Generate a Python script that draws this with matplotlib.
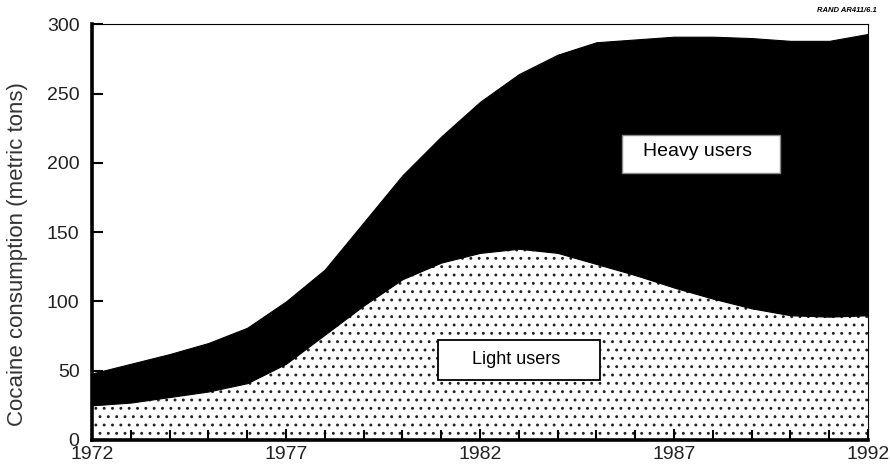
"""
Cocaine consumption by light and heavy users, 1972-1992 (stacked area).
"""

import matplotlib
matplotlib.use("Agg")
import matplotlib.pyplot as plt
from matplotlib.patches import Rectangle
from matplotlib.ticker import MultipleLocator

plt.rcParams["font.family"] = ["Liberation Sans", "DejaVu Sans"]
plt.rcParams["hatch.linewidth"] = 0.9
plt.rcParams["hatch.color"] = "#222222"

years = list(range(1972, 1993))
light_users = [25, 27, 31, 35, 41, 55, 76, 97, 116, 128, 135, 138, 135,
               127, 119, 110, 102, 95, 90, 89, 90]
total_users = [48, 55, 62, 70, 81, 100, 123, 157, 191, 219, 244, 264, 278,
               287, 289, 291, 291, 290, 288, 288, 293]
x_labels = [1972, 1977, 1982, 1987, 1992]
y_ticks = [0, 50, 100, 150, 200, 250, 300]


def main():
    fig = plt.figure(figsize=(8.9, 4.75), dpi=100)
    ax = fig.add_axes([0.1034, 0.0737, 0.8719, 0.8753])

    ax.fill_between(years, 0, light_users, facecolor="white",
                    edgecolor="none", hatch="..", linewidth=0)
    ax.fill_between(years, light_users, total_users, facecolor="black",
                    edgecolor="black", linewidth=0.8)

    ax.set_xlim(1972, 1992)
    ax.set_ylim(0, 300)
    ax.set_xticks(x_labels)
    ax.set_xticklabels([str(y) for y in x_labels])
    ax.xaxis.set_minor_locator(MultipleLocator(1))
    ax.set_yticks(y_ticks)

    ax.tick_params(axis="y", which="major", direction="in", length=8,
                   width=1.5, labelsize=14, colors="black", pad=9,
                   labelcolor="#222222")
    ax.tick_params(axis="x", which="major", direction="in", length=8,
                   width=1.5, labelsize=14, pad=4, labelcolor="#222222")
    ax.tick_params(axis="x", which="minor", direction="in", length=7,
                   width=1.5)
    ax.tick_params(top=False, right=False, which="both")

    ax.spines["left"].set_linewidth(2.6)
    ax.spines["bottom"].set_linewidth(2.6)
    ax.spines["top"].set_linewidth(0.8)
    ax.spines["right"].set_linewidth(0.8)

    ax.set_ylabel("Cocaine consumption (metric tons)", fontsize=16,
                  color="#333333")
    ax.yaxis.set_label_coords(-0.082, 0.447)

    # label boxes
    ax.add_patch(Rectangle((1985.66, 192.5), 4.07, 27.4, facecolor="white",
                           edgecolor="#888888", linewidth=1.0, zorder=3))
    ax.text(1987.6, 208, "Heavy users", fontsize=14, ha="center",
            va="center", zorder=4)
    ax.add_patch(Rectangle((1980.92, 43.3), 4.17, 28.8, facecolor="white",
                           edgecolor="black", linewidth=1.3, zorder=3))
    ax.text(1982.93, 58, "Light users", fontsize=13, ha="center",
            va="center", zorder=4)

    fig.text(0.985, 0.985, "RAND AR411/6.1", fontsize=5.5, ha="right",
             va="top", fontweight="bold", style="italic")

    fig.savefig("out.png", dpi=100)


if __name__ == "__main__":
    main()
